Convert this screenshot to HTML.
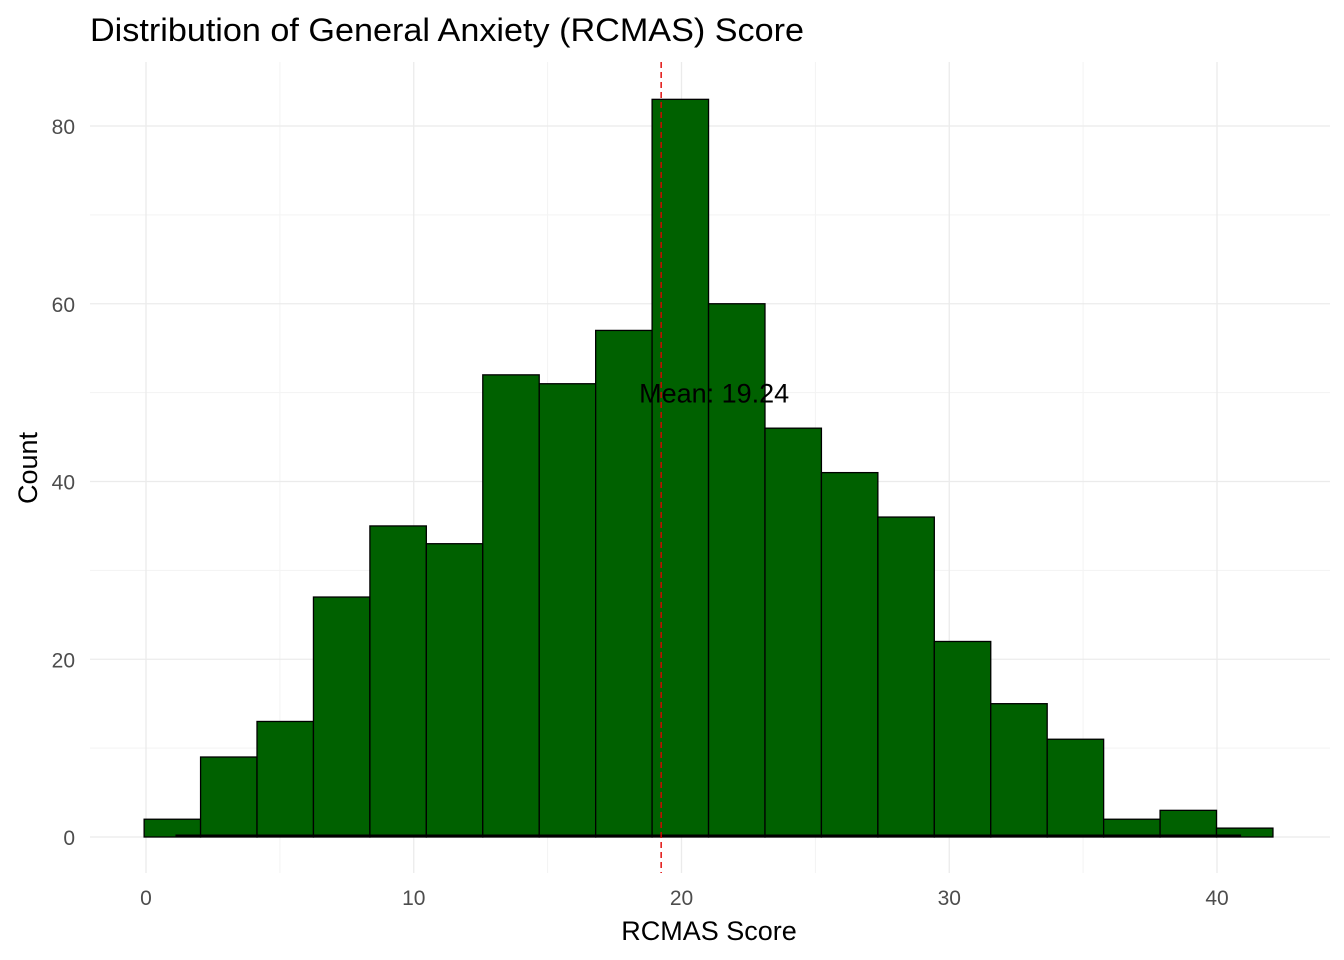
<!DOCTYPE html>
<html><head><meta charset="utf-8"><style>
html,body{margin:0;padding:0;background:#fff;}
svg{display:block;font-family:"Liberation Sans",Arial,sans-serif;}
</style></head><body>
<svg id="chart" width="1344" height="960" xmlns="http://www.w3.org/2000/svg">
<text x="90" y="41" font-size="32" fill="#000" textLength="714" lengthAdjust="spacingAndGlyphs">Distribution of General Anxiety (RCMAS) Score</text>
<g id="grid"></g>
<g id="bars"></g>
<g id="ticks"></g>
<text x="709" y="940" font-size="27" text-anchor="middle" fill="#000">RCMAS Score</text>
<text transform="translate(37,468) rotate(-90)" font-size="27" text-anchor="middle" fill="#000">Count</text>
</svg>
<script>
const counts = [2,9,13,27,35,33,52,51,57,83,60,46,41,36,22,15,11,2,3,1];
const binStart = -0.07;
const binWidth = 2.108;
const meanValue = 19.24;
const xTicks = [0,10,20,30,40];
const yTicks = [0,20,40,60,80];

const NS="http://www.w3.org/2000/svg";
const xs = v => 146 + v*26.775;
const ys = v => 837 - v*8.8875;
function mk(tag, attrs, parent){const e=document.createElementNS(NS,tag);for(const k in attrs)e.setAttribute(k,attrs[k]);parent.appendChild(e);return e;}
const grid=document.getElementById('grid'), bars=document.getElementById('bars'), ticks=document.getElementById('ticks');
const L=90,R=1330,T=62,B=873;
for(let v=5; v<=45; v+=10){const x=xs(v); if(x<R){const l=mk('line',{x1:x,x2:x,y1:T,y2:B,stroke:'#f3f3f3','stroke-width':1},grid);

}}
for(let v=10; v<=90; v+=20){const y=ys(v); if(y>T){const l=mk('line',{x1:L,x2:R,y1:y,y2:y,stroke:'#f3f3f3','stroke-width':1},grid);

}}
xTicks.forEach(v=>{const x=xs(v);const l=mk('line',{x1:x,x2:x,y1:T,y2:B,stroke:'#ebebeb','stroke-width':1.3},grid);


const t=mk('text',{x:x,y:905,'font-size':21,'text-anchor':'middle',fill:'#4d4d4d'},ticks);t.textContent=v;

});
yTicks.forEach(v=>{const y=ys(v);const l=mk('line',{x1:L,x2:R,y1:y,y2:y,stroke:'#ebebeb','stroke-width':1.3},grid);


const t=mk('text',{x:75,y:y+8,'font-size':21,'text-anchor':'end',fill:'#4d4d4d'},ticks);t.textContent=v;

});
counts.forEach((c,i)=>{const x0=xs(binStart+i*binWidth), x1=xs(binStart+(i+1)*binWidth);
const r=mk('rect',{x:x0,y:ys(c),width:x1-x0,height:ys(0)-ys(c),fill:'#006100',stroke:'#000','stroke-width':1.3},bars);

});
const base=mk('line',{x1:xs(1.1),x2:xs(40.9),y1:836,y2:836,stroke:'#000','stroke-width':3},bars);


const ml=mk('line',{x1:xs(meanValue),x2:xs(meanValue),y1:T,y2:B,stroke:'#e00000','stroke-width':1.4,'stroke-dasharray':'6,4'},bars);


const mt=mk('text',{x:xs(meanValue)+53,y:ys(50)+10,'font-size':27,'text-anchor':'middle',fill:'#000'},bars);mt.textContent='Mean: '+meanValue.toFixed(2);


</script>
</body></html>
